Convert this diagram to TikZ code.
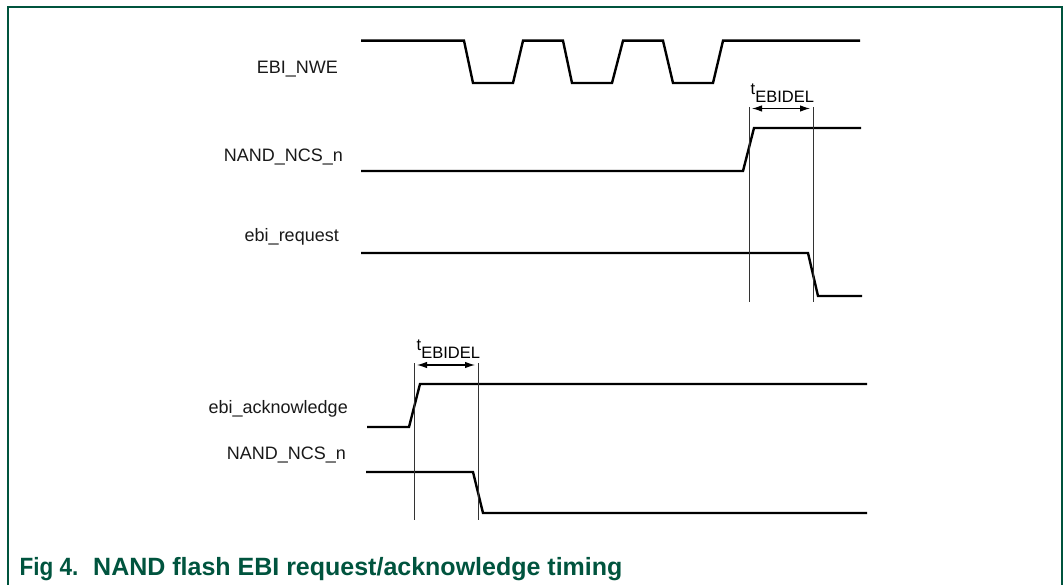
\documentclass[tikz,border=0pt]{standalone}
\usepackage{fontspec}
\setmainfont{Liberation Sans}
\usetikzlibrary{arrows.meta}
\definecolor{nxpgreen}{RGB}{0,84,62}
\begin{document}
\begin{tikzpicture}[x=1pt,y=-1pt,
  wave/.style={line width=2.4pt,line join=miter},
  guide/.style={line width=0.8pt,black!80},
  dim/.style={line width=1.1pt,{Latex[length=10pt,width=6.5pt]}-{Latex[length=10pt,width=6.5pt]}},
  siglabel/.style={anchor=east,inner sep=0pt,font=\fontsize{18}{20}\selectfont,text=black!90},
  tlabel/.style={anchor=base west,inner sep=0pt,font=\fontsize{16.5}{18}\selectfont},
  caption/.style={anchor=base west,inner sep=0pt,font=\fontsize{25}{27}\selectfont\bfseries,text=nxpgreen},
  frame/.style={line width=1.6pt,nxpgreen}]
\useasboundingbox (0,0) rectangle (1063,585);
% frame
\draw[frame] (8,590) -- (8,6.8) -- (1062,6.8) -- (1062,590);
% labels
\node[siglabel] (lnwe) at (338,69) {EBI\_NWE};
\node[siglabel] (lncs1) at (343,157) {NAND\_NCS\_n};
\node[siglabel] (lreq) at (339,237) {ebi\_request};
\node[siglabel] (lack) at (348,409) {ebi\_acknowledge};
\node[siglabel] (lncs2) at (346,455) {NAND\_NCS\_n};
% EBI_NWE
\draw[wave] (361,40.7) -- (464,40.7) -- (473,83) -- (513,83) -- (523,40.7) -- (563,40.7)
  -- (572,83) -- (612,83) -- (623,40.7) -- (663,40.7) -- (673,83) -- (713,83)
  -- (723,40.7) -- (860,40.7);
% NAND_NCS_n (upper)
\draw[wave] (361,171) -- (743,171) -- (754,128) -- (861,128);
% ebi_request
\draw[wave] (361,253) -- (808,253) -- (818,296) -- (862,296);
% ebi_acknowledge
\draw[wave] (367,427) -- (409,427) -- (420,384) -- (867,384);
% NAND_NCS_n (lower)
\draw[wave] (366,472) -- (473,472) -- (483,513) -- (867,513);
% upper timing
\coordinate (ua1) at (749,107); \coordinate (ua2) at (749,302);
\coordinate (ub1) at (813,107); \coordinate (ub2) at (813,302);
\draw[guide] (ua1) -- (ua2);
\draw[guide] (ub1) -- (ub2);
\coordinate (uarrL) at (752,108.5); \coordinate (uarrR) at (810,108.5);
\draw[dim] (uarrL) -- (uarrR);
\node[tlabel] (ut) at (750.5,95) {t\raisebox{-8pt}{EBIDEL}};
% lower timing
\coordinate (la1) at (414,363); \coordinate (la2) at (414,520);
\coordinate (lb1) at (478,363); \coordinate (lb2) at (478,520);
\draw[guide] (la1) -- (la2);
\draw[guide] (lb1) -- (lb2);
\coordinate (larrL) at (417,365); \coordinate (larrR) at (475,365);
\draw[dim] (larrL) -- (larrR);
\node[tlabel] (lt) at (416.5,350) {t\raisebox{-8pt}{EBIDEL}};
% caption
\node[caption] (cap1) at (19.5,575) {\scalebox{0.9}[1]{Fig 4.}};
\node[caption] (cap2) at (93,575) {NAND flash EBI request/acknowledge timing};
\end{tikzpicture}
\end{document}
